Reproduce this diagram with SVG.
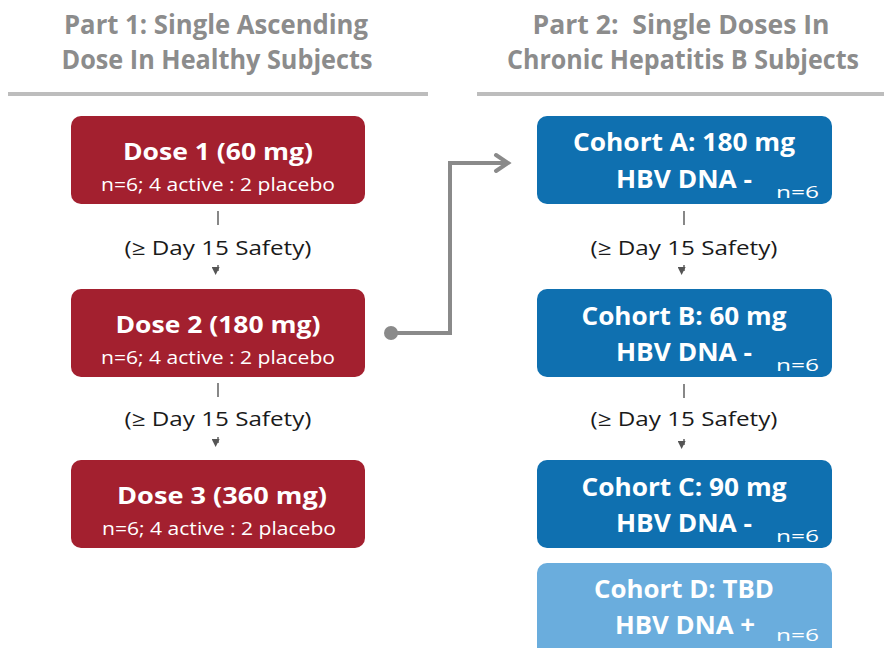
<svg xmlns="http://www.w3.org/2000/svg" width="884" height="648" viewBox="0 0 884 648">
<defs>
<style>
text{font-family:"Open Sans","Liberation Sans",sans-serif;}
.hdr{font-size:26px;font-weight:700;fill:#8C8C8C;text-anchor:middle;}
.rule{stroke:#BDBDBD;stroke-width:4;}
.red{fill:#A3202F;}
.blue{fill:#0F70B0;}
.lblue{fill:#6AADDD;}
.t1{font-size:24px;font-weight:700;fill:#FFFFFF;text-anchor:middle;}
.t2{font-size:18px;fill:#FFFFFF;text-anchor:middle;}
.ct{font-size:25px;font-weight:700;fill:#FFFFFF;text-anchor:middle;}
.n{font-size:16px;fill:#FFFFFF;}
.lbl{font-size:20px;fill:#1A1A1A;text-anchor:middle;}
.tick{stroke:#555555;stroke-width:1.4;fill:none;}
.elbow{stroke:#8A8A8A;stroke-width:4;fill:none;}
</style>
<marker id="tri" viewBox="0 0 10 10" refX="5" refY="2" markerWidth="8" markerHeight="8" markerUnits="userSpaceOnUse" orient="auto-start-reverse">
<path d="M0,0 L10,5 L0,10 Z" fill="#555555"/>
</marker>
</defs>
<rect width="884" height="648" fill="#FFFFFF"/>

<g id="header-part1">
<text class="hdr" x="216" y="34" textLength="304" lengthAdjust="spacingAndGlyphs">Part 1: Single Ascending</text>
<text class="hdr" x="217" y="69" textLength="311" lengthAdjust="spacingAndGlyphs">Dose In Healthy Subjects</text>
<line class="rule" x1="8" y1="94" x2="428" y2="94"/>
</g>
<g id="header-part2">
<text class="hdr" x="681" y="34" textLength="297" lengthAdjust="spacingAndGlyphs" xml:space="preserve">Part 2:  Single Doses In</text>
<text class="hdr" x="683" y="69" textLength="352" lengthAdjust="spacingAndGlyphs">Chronic Hepatitis B Subjects</text>
<line class="rule" x1="477" y1="94" x2="884" y2="94"/>
</g>

<g id="dose1">
<rect class="red" x="71" y="116" width="294" height="88" rx="10"/>
<text class="t1" x="218" y="160" textLength="190" lengthAdjust="spacingAndGlyphs">Dose 1 (60 mg)</text>
<text class="t2" x="218" y="191" textLength="234" lengthAdjust="spacingAndGlyphs">n=6; 4 active : 2 placebo</text>
</g>
<g id="dose2">
<rect class="red" x="71" y="289" width="294" height="88" rx="10"/>
<text class="t1" x="218" y="333" textLength="205" lengthAdjust="spacingAndGlyphs">Dose 2 (180 mg)</text>
<text class="t2" x="218" y="364" textLength="234" lengthAdjust="spacingAndGlyphs">n=6; 4 active : 2 placebo</text>
</g>
<g id="dose3">
<rect class="red" x="71" y="460" width="294" height="88" rx="10"/>
<text class="t1" x="222" y="504" textLength="210" lengthAdjust="spacingAndGlyphs">Dose 3 (360 mg)</text>
<text class="t2" x="219" y="535" textLength="234" lengthAdjust="spacingAndGlyphs">n=6; 4 active : 2 placebo</text>
</g>

<g id="cohortA">
<rect class="blue" x="537" y="116" width="295" height="88" rx="10"/>
<text class="ct" x="684" y="151" textLength="222" lengthAdjust="spacingAndGlyphs">Cohort A: 180 mg</text>
<text class="ct" x="684" y="188" textLength="136" lengthAdjust="spacingAndGlyphs">HBV DNA -</text>
<text class="n" x="776" y="198" textLength="43" lengthAdjust="spacingAndGlyphs">n=6</text>
</g>
<g id="cohortB">
<rect class="blue" x="537" y="289" width="295" height="88" rx="10"/>
<text class="ct" x="684" y="325" textLength="205" lengthAdjust="spacingAndGlyphs">Cohort B: 60 mg</text>
<text class="ct" x="684" y="361" textLength="136" lengthAdjust="spacingAndGlyphs">HBV DNA -</text>
<text class="n" x="776" y="371" textLength="43" lengthAdjust="spacingAndGlyphs">n=6</text>
</g>
<g id="cohortC">
<rect class="blue" x="537" y="460" width="295" height="88" rx="10"/>
<text class="ct" x="684" y="496" textLength="205" lengthAdjust="spacingAndGlyphs">Cohort C: 90 mg</text>
<text class="ct" x="684" y="532" textLength="136" lengthAdjust="spacingAndGlyphs">HBV DNA -</text>
<text class="n" x="776" y="542" textLength="43" lengthAdjust="spacingAndGlyphs">n=6</text>
</g>
<g id="cohortD">
<rect class="lblue" x="537" y="563" width="295" height="95" rx="10"/>
<text class="ct" x="684" y="598" textLength="180" lengthAdjust="spacingAndGlyphs">Cohort D: TBD</text>
<text class="ct" x="685" y="634" textLength="140" lengthAdjust="spacingAndGlyphs">HBV DNA +</text>
<text class="n" x="776" y="641" textLength="43" lengthAdjust="spacingAndGlyphs">n=6</text>
</g>

<g id="connectors">
<line class="tick" x1="218" y1="211" x2="218" y2="225"/>
<text class="lbl" x="218" y="255" textLength="187" lengthAdjust="spacingAndGlyphs">(≥ Day 15 Safety)</text>
<line class="tick" x1="218" y1="265" x2="218" y2="271" marker-end="url(#tri)"/>

<line class="tick" x1="218" y1="383" x2="218" y2="397"/>
<text class="lbl" x="218" y="426" textLength="187" lengthAdjust="spacingAndGlyphs">(≥ Day 15 Safety)</text>
<line class="tick" x1="218" y1="437" x2="218" y2="443" marker-end="url(#tri)"/>

<line class="tick" x1="684" y1="211" x2="684" y2="225"/>
<text class="lbl" x="684" y="255" textLength="187" lengthAdjust="spacingAndGlyphs">(≥ Day 15 Safety)</text>
<line class="tick" x1="684" y1="265" x2="684" y2="271" marker-end="url(#tri)"/>

<line class="tick" x1="684" y1="384" x2="684" y2="398"/>
<text class="lbl" x="684" y="426" textLength="187" lengthAdjust="spacingAndGlyphs">(≥ Day 15 Safety)</text>
<line class="tick" x1="684" y1="439" x2="684" y2="445" marker-end="url(#tri)"/>

<circle cx="391" cy="333" r="7" fill="#8A8A8A"/>
<path class="elbow" d="M391,333 H450 V163 H507"/>
<polyline class="elbow" points="496,155 508,163 496,171" stroke-linecap="round"/>
</g>
</svg>
